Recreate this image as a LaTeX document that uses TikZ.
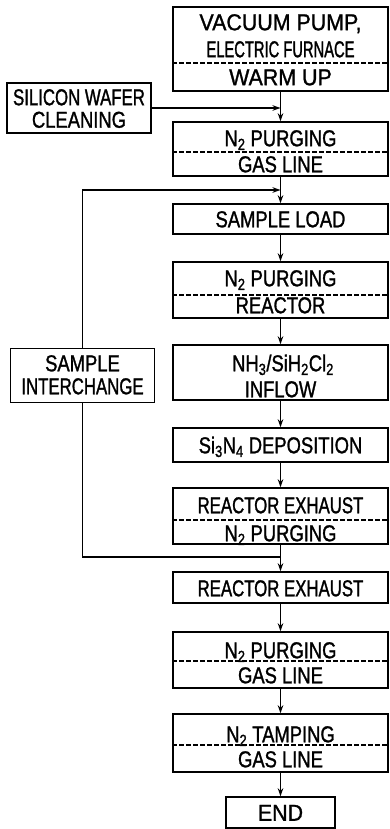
\documentclass[tikz,border=0pt]{standalone}
\usepackage{fontspec}
\setmainfont{Liberation Sans}[FakeStretch=0.8,FakeBold=1.2]
\newfontfamily\narrowfont{Liberation Sans}[FakeStretch=0.64,FakeBold=1.2]
\newfontfamily\tightfont{Liberation Sans}[FakeStretch=0.73,FakeBold=1.2]
\newfontfamily\widefont{Liberation Sans}[FakeStretch=0.93,FakeBold=1.2]
\usetikzlibrary{arrows.meta,positioning}

\begin{document}
\begin{tikzpicture}[x=1pt,y=-1pt,font=\fontsize{23}{26}\selectfont,line width=1.5pt,
  stage/.style={draw,inner sep=0pt,minimum width=215pt},
  side/.style={draw,inner sep=0pt,minimum width=144pt},
  lbl/.style={inner sep=0pt,text height=16.5pt,text depth=0pt},
  divide/.style={line width=1.2pt,dash pattern=on 5pt off 2pt},
  >={Stealth[length=8pt,width=5.5pt]}]
\useasboundingbox (0,0) rectangle (389,829);
% main column
\node[stage,minimum height=84pt] (pump) at (280.5,49) {};
\node[stage,minimum height=54pt] (gasA) at (280.5,149) {};
\node[stage,minimum height=30pt] (load) at (280.5,219) {};
\node[stage,minimum height=56pt] (reactor) at (280.5,290) {};
\node[stage,minimum height=55pt] (inflow) at (280.5,372.5) {};
\node[stage,minimum height=34pt] (depos) at (280.5,445) {};
\node[stage,minimum height=56pt] (exhA) at (280.5,516) {};
\node[stage,minimum height=31pt] (exhB) at (280.5,587.5) {};
\node[stage,minimum height=56pt] (gasB) at (280.5,660) {};
\node[stage,minimum height=58pt] (tamp) at (280.5,743) {};
\node[draw,inner sep=0pt,minimum width=109pt,minimum height=31pt] (end) at (280.5,812.5) {};
% side boxes
\node[side,minimum height=50pt] (clean) at (79,108) {};
\node[side,minimum height=54pt] (swap) at (82.5,375.5) {};
% texts
\node[lbl] (pump1) at (280.5,22) {\widefont VACUUM PUMP,};
\node[lbl] (pump2) at (280.5,49) {\narrowfont ELECTRIC FURNACE};
\node[lbl] (pump3) at (280.5,77) {\widefont WARM UP};
\node[lbl] (gasA1) at (280.5,138) {N\textsubscript{2} PURGING};
\node[lbl] (gasA2) at (280.5,164) {GAS LINE};
\node[lbl] (load1) at (280.5,219) {SAMPLE LOAD};
\node[lbl] (reactor1) at (280.5,278) {N\textsubscript{2} PURGING};
\node[lbl] (reactor2) at (280.5,305) {REACTOR};
\node[lbl] (inflow1) at (283,363) {NH\textsubscript{3}/SiH\textsubscript{2}Cl\textsubscript{2}};
\node[lbl] (inflow2) at (280.5,389) {INFLOW};
\node[lbl] (depos1) at (280.5,445) {Si\textsubscript{3}N\textsubscript{4} DEPOSITION};
\node[lbl] (exhA1) at (280.5,505) {\tightfont REACTOR EXHAUST};
\node[lbl] (exhA2) at (280.5,533) {N\textsubscript{2} PURGING};
\node[lbl] (exhB1) at (280.5,588) {\tightfont REACTOR EXHAUST};
\node[lbl] (gasB1) at (280.5,650) {N\textsubscript{2} PURGING};
\node[lbl] (gasB2) at (280.5,675) {GAS LINE};
\node[lbl] (tamp1) at (280.5,734) {N\textsubscript{2} TAMPING};
\node[lbl] (tamp2) at (280.5,759) {GAS LINE};
\node[lbl] (end1) at (280.5,812.5) {\widefont END};
\node[lbl] (clean1) at (79,97) {\tightfont SILICON WAFER};
\node[lbl] (clean2) at (79,119.5) {CLEANING};
\node[lbl] (swap1) at (82.5,363) {SAMPLE};
\node[lbl] (swap2) at (82.5,386) {\tightfont INTERCHANGE};
% dashed dividers
\draw[divide] (pump.west |- 0,63) -- (pump.east |- 0,63);
\draw[divide] (gasA.west |- 0,152) -- (gasA.east |- 0,152);
\draw[divide] (reactor.west |- 0,295) -- (reactor.east |- 0,295);
\draw[divide] (exhA.west |- 0,520) -- (exhA.east |- 0,520);
\draw[divide] (gasB.west |- 0,661) -- (gasB.east |- 0,661);
\draw[divide] (tamp.west |- 0,745) -- (tamp.east |- 0,745);
% flow
\coordinate (mergeA) at (pump.south |- clean.east);
\coordinate (mergeB) at (280.5,190);
\coordinate (backA) at (280.5,557);
\draw[->] (pump)--(gasA);
\draw[->] (clean.east)--(mergeA);
\draw[->] (gasA)--(load);
\draw[->] (load)--(reactor);
\draw[->] (reactor)--(inflow);
\draw[->] (inflow)--(depos);
\draw[->] (depos)--(exhA);
\draw[->] (exhA)--(exhB);
\draw[->] (exhB)--(gasB);
\draw[->] (gasB)--(tamp);
\draw[->] (tamp)--(end);
\draw (backA) -| (swap.south);
\draw[->] (swap.north) |- (mergeB);
\end{tikzpicture}
\end{document}
